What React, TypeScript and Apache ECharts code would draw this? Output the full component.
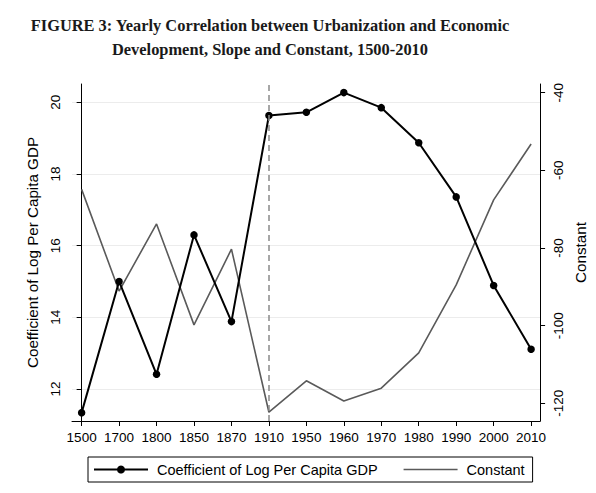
import React, { useEffect, useRef } from "react";
import * as echarts from "echarts";

const years = ["1500", "1700", "1800", "1850", "1870", "1910", "1950", "1960", "1970", "1980", "1990", "2000", "2010"];
const coefficient = [11.34, 15.0, 12.41, 16.3, 13.88, 19.63, 19.72, 20.27, 19.85, 18.87, 17.36, 14.89, 13.11];
const constant = [-64.9, -91.1, -73.8, -99.8, -80.3, -122.3, -114.2, -119.4, -116.1, -107.0, -89.5, -67.6, -53.2];
const leftTicks = [12, 14, 16, 18, 20];
const rightTicks = [-120, -100, -80, -60, -40];
const dividerYearIndex = 5;

const titleText = "FIGURE 3: Yearly Correlation between Urbanization and Economic\nDevelopment, Slope and Constant, 1500-2010";
const coefName = "Coefficient of Log Per Capita GDP";
const constName = "Constant";

export default function App() {
  const ref = useRef<HTMLDivElement>(null);
  useEffect(() => {
    if (!ref.current) return;
    const chart = echarts.init(ref.current, null, { renderer: "svg" });
    const font = "Liberation Sans";
    const idx = years.map((_, i) => i);
    chart.setOption({
      animation: false,
      backgroundColor: "#fff",
      graphic: [
        {
          type: "text",
          x: 270,
          y: 13,
          style: {
            text: titleText,
            textAlign: "center",
            textVerticalAlign: "top",
            font: 'bold 16.4px "Liberation Serif"',
            lineHeight: 24,
            fill: "#1a1a1a",
          },
        },
      ],
      grid: { left: 72, right: 52.7, top: 84, bottom: 72, containLabel: false },
      legend: {
        left: 88,
        top: 457,
        orient: "horizontal",
        borderColor: "#000",
        borderWidth: 1,
        padding: [5, 8, 5, 5],
        itemWidth: 54,
        itemHeight: 10,
        itemGap: 26,
        textStyle: { fontFamily: font, fontSize: 14.5, color: "#000", padding: [0, 0, 0, 4] },
        data: [
          { name: coefName },
          { name: constName, icon: "path://M0,0H54V1.5H0Z" },
        ],
      },
      xAxis: {
        type: "value",
        min: -0.257,
        max: 12.24,
        axisLine: { show: true, onZero: false, lineStyle: { color: "#000", width: 1 } },
        axisTick: { show: true, length: 5, customValues: idx, lineStyle: { color: "#000" } },
        axisLabel: {
          customValues: idx,
          formatter: (v: number) => years[Math.round(v)] ?? "",
          fontFamily: font,
          fontSize: 13.5,
          color: "#000",
          margin: 9,
        },
        splitLine: { show: false },
      },
      yAxis: [
        {
          type: "value",
          position: "left",
          min: 11.107,
          max: 20.51,
          name: coefName,
          nameLocation: "middle",
          nameGap: 24.5,
          nameRotate: 90,
          nameTextStyle: { fontFamily: font, fontSize: 15.2, color: "#000" },
          axisLine: { show: true, lineStyle: { color: "#000", width: 1 } },
          axisTick: { show: true, length: 5, customValues: leftTicks, lineStyle: { color: "#000" } },
          axisLabel: { customValues: leftTicks, rotate: 90, fontFamily: font, fontSize: 13.5, color: "#000", margin: 10 },
          splitLine: { show: true, lineStyle: { color: "#ececec", width: 1 } },
        },
        {
          type: "value",
          position: "right",
          min: -124.56,
          max: -37.76,
          name: constName,
          nameLocation: "middle",
          nameGap: 26.5,
          nameRotate: 90,
          nameTextStyle: { fontFamily: font, fontSize: 15.2, color: "#000" },
          axisLine: { show: true, lineStyle: { color: "#000", width: 1 } },
          axisTick: { show: true, length: 5, customValues: rightTicks, lineStyle: { color: "#000" } },
          axisLabel: { customValues: rightTicks, rotate: 90, fontFamily: font, fontSize: 13.5, color: "#000", margin: 11 },
          splitLine: { show: false },
        },
      ],
      series: [
        {
          name: constName,
          type: "line",
          yAxisIndex: 1,
          data: constant.map((v, i) => [i, v]),
          symbol: "none",
          lineStyle: { color: "#5a5a5a", width: 1.6 },
          itemStyle: { color: "#5a5a5a" },
          z: 2,
        },
        {
          name: coefName,
          type: "line",
          yAxisIndex: 0,
          data: coefficient.map((v, i) => [i, v]),
          symbol: "circle",
          symbolSize: 7.5,
          lineStyle: { color: "#000", width: 2 },
          itemStyle: { color: "#000" },
          z: 3,
          markLine: {
            silent: true,
            symbol: "none",
            label: { show: false },
            lineStyle: { color: "#8a8a8a", type: [6, 4], width: 1.5 },
            data: [{ xAxis: dividerYearIndex }],
          },
        },
      ],
    });
    return () => chart.dispose();
  }, []);
  return <div ref={ref} style={{ position: "absolute", left: 0, top: 0, width: 596, height: 493 }} />;
}
